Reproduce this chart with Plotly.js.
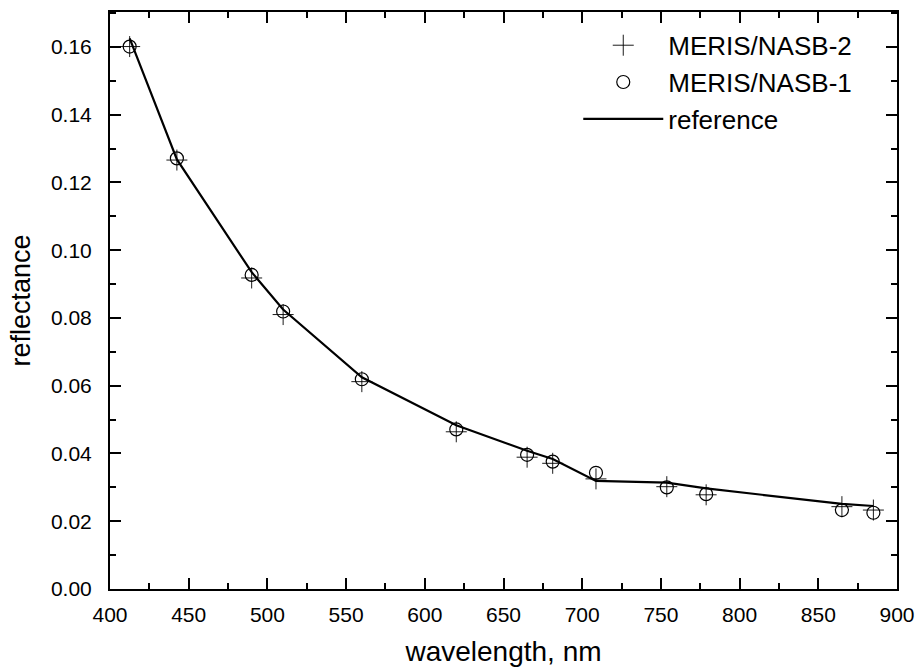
<!DOCTYPE html>
<html>
<head>
<meta charset="utf-8">
<script src="https://cdn.plot.ly/plotly-3.0.1.min.js"></script>
<style>html,body{margin:0;padding:0;background:#fff;}#chart{width:918px;height:672px;}</style>
</head>
<body>
<div id="chart"></div>
<script>
var wavelength = [412.5, 442.5, 490, 510, 560, 620, 665, 681.25, 708.75, 753.75, 778.75, 865, 885];
var nasb1 = [0.1601, 0.1271, 0.0927, 0.0819, 0.0619, 0.0471, 0.0396, 0.0376, 0.0343, 0.0300, 0.0280, 0.0233, 0.0225];
var nasb2 = [0.1601, 0.1266, 0.0918, 0.0810, 0.0612, 0.0464, 0.0389, 0.0371, 0.0325, 0.0302, 0.0278, 0.0243, 0.0233];
var reference = [0.1625, 0.1268, 0.0935, 0.0825, 0.0625, 0.0483, 0.0408, 0.0384, 0.0319, 0.0314, 0.0297, 0.0251, 0.0245];
var xTicks = [400, 450, 500, 550, 600, 650, 700, 750, 800, 850, 900];
var yTicks = [0.00, 0.02, 0.04, 0.06, 0.08, 0.10, 0.12, 0.14, 0.16];

var font = 'Liberation Sans, Arial, Helvetica, sans-serif';

var traces = [
  {x: wavelength, y: reference, name: 'reference', mode: 'lines',
   line: {color: '#000', width: 2.2}, legendrank: 3},
  {x: wavelength, y: nasb1, name: 'MERIS/NASB-1', mode: 'markers',
   marker: {symbol: 'circle-open', size: 13, color: '#000', line: {width: 1.2, color: '#000'}}, legendrank: 2},
  {x: wavelength, y: nasb2, name: 'MERIS/NASB-2', mode: 'markers',
   marker: {symbol: 'cross-thin-open', size: 15, color: '#000', line: {width: 0.9, color: '#000'}}, legendrank: 1}
];

var axisCommon = {
  showgrid: false, zeroline: false, showline: true, linecolor: '#000', linewidth: 2,
  mirror: 'ticks', ticks: 'inside', ticklen: 11, tickwidth: 2, tickcolor: '#000',
  tickfont: {family: font, size: 21, color: '#000'}
};

var layout = {
  width: 918, height: 672,
  margin: {l: 110, r: 21, t: 12, b: 83},
  paper_bgcolor: '#fff', plot_bgcolor: '#fff',
  font: {family: font, color: '#000'},
  showlegend: true,
  legend: {x: 0.595, y: 0.983, xanchor: 'left', yanchor: 'top', bgcolor: 'rgba(0,0,0,0)',
    font: {family: font, size: 26, color: '#000'}, itemwidth: 80, traceorder: 'normal'},
  xaxis: Object.assign({}, axisCommon, {
    range: [400, 900], tickvals: xTicks, ticktext: xTicks.map(String),
    minor: {dtick: 25, tick0: 400, ticklen: 6, tickwidth: 2, tickcolor: '#000', ticks: 'inside'},
    title: {text: 'wavelength, nm', font: {family: font, size: 28, color: '#000'}, standoff: 16},
    ticklabelstandoff: 6
  }),
  yaxis: Object.assign({}, axisCommon, {
    range: [0, 0.1703], tickvals: yTicks, ticktext: yTicks.map(function(v){return v.toFixed(2);}),
    minor: {dtick: 0.01, tick0: 0, ticklen: 6, tickwidth: 2, tickcolor: '#000', ticks: 'inside'},
    title: {text: 'reflectance', font: {family: font, size: 27, color: '#000'}, standoff: 12},
    ticklabelstandoff: 12
  })
};

Plotly.newPlot('chart', traces, layout, {staticPlot: true, displayModeBar: false});
</script>
</body>
</html>
